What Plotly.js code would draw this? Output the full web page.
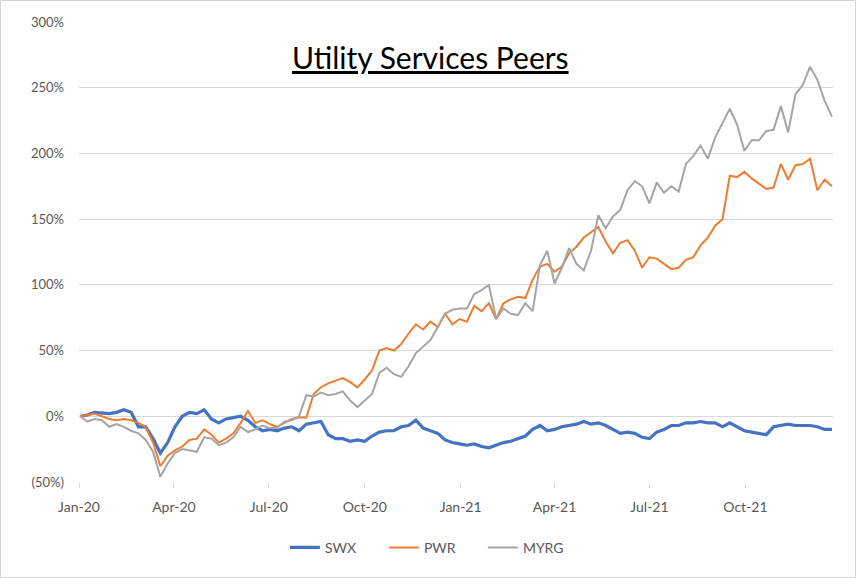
<!DOCTYPE html>
<html>
<head>
<meta charset="utf-8">
<script src="https://cdn.plot.ly/plotly-3.0.1.min.js"></script>
<style>
  body { margin: 0; background: #fff; }
  #plot { width: 854px; height: 576px; border: 1px solid #d4d4d4; }
</style>
</head>
<body>
<div id="plot"></div>
<script>
// weekly closes, % change since 2 Jan 2020
let swx = [0, 1, 3, 2.5, 2, 3, 5, 3, -8, -8, -17, -28, -20, -8, 0, 3, 2, 5, -2, -5,
  -2, -1, 0, -3, -8, -11, -10, -11, -9, -8, -11, -6, -5, -4, -14, -17, -17, -19, -18, -19,
  -15, -12, -11, -11, -8, -7, -3, -9, -11, -13, -18, -20, -21, -22, -21, -23, -24, -22, -20, -19,
  -17, -15, -10, -7, -11, -10, -8, -7, -6, -4, -6, -5, -7, -10, -13, -12, -13, -16, -17, -12,
  -10, -7, -7, -5, -5, -4, -5, -5, -8, -5, -8, -11, -12, -13, -14, -8, -7, -6, -7, -7,
  -7, -8, -10, -10];

let pwr = [0, 1, 2, 0, -2, -3, -2, -3, -5, -8, -20, -38, -30, -26, -23, -18, -17, -10, -14, -20,
  -17, -13, -5, 4, -5, -3, -6, -8, -5, -2, -1, -1, 17, 22, 25, 27, 29, 26, 22, 28,
  35, 50, 52, 50, 55, 63, 70, 66, 72, 68, 78, 70, 74, 72, 84, 80, 86, 74, 86, 89,
  91, 90, 104, 114, 116, 110, 114, 124, 129, 136, 140, 144, 133, 124, 132, 134, 126, 113, 121, 120,
  116, 112, 113, 119, 121, 130, 136, 145, 150, 183, 182, 186, 181, 177, 173, 174, 192, 180, 191, 192,
  196, 172, 180, 175];

let myrg = [0, -4, -2, -3, -8, -6, -8, -11, -13, -18, -27, -46, -36, -28, -25, -26, -27, -16, -17, -22,
  -20, -16, -8, -12, -10, -7, -9, -9, -4, -3, 0, 16, 15, 18, 16, 17, 19, 12, 7, 12,
  17, 33, 37, 32, 30, 38, 48, 53, 58, 68, 78, 81, 82, 82, 93, 96, 100, 74, 82, 78,
  77, 86, 80, 115, 126, 101, 113, 128, 116, 111, 126, 153, 143, 152, 157, 172, 179, 175, 162, 178,
  170, 175, 171, 192, 198, 206, 196, 212, 223, 234, 222, 202, 210, 210, 217, 218, 236, 216, 245, 252,
  266, 256, 240, 228];

let yTicks = [-50, 0, 50, 100, 150, 200, 250, 300];
let yLabels = ['(50%)', '0%', '50%', '100%', '150%', '200%', '250%', '300%'];
let xTicks = ['2020-01-01', '2020-04-01', '2020-07-01', '2020-10-01',
  '2021-01-01', '2021-04-01', '2021-07-01', '2021-10-01'];
let xLabels = ['Jan-20', 'Apr-20', 'Jul-20', 'Oct-20', 'Jan-21', 'Apr-21', 'Jul-21', 'Oct-21'];

// one date per week, starting 2 Jan 2020
let dates = [];
let start = Date.UTC(2020, 0, 2);
for (let i = 0; i < swx.length; i++) {
  dates.push(new Date(start + i * 7 * 86400000).toISOString().slice(0, 10));
}

let swxTrace = {
  x: dates, y: swx, name: 'SWX', type: 'scatter', mode: 'lines',
  line: {color: '#4472C4', width: 3.2}
};
let pwrTrace = {
  x: dates, y: pwr, name: 'PWR', type: 'scatter', mode: 'lines',
  line: {color: '#ED7D31', width: 2}
};
let myrgTrace = {
  x: dates, y: myrg, name: 'MYRG', type: 'scatter', mode: 'lines',
  line: {color: '#A5A5A5', width: 2}
};

let data = [swxTrace, pwrTrace, myrgTrace];

let layout = {
  width: 854,
  height: 576,
  paper_bgcolor: '#fff',
  plot_bgcolor: '#fff',
  font: {family: 'Lato, "Open Sans", sans-serif', size: 14, color: '#595959'},
  margin: {l: 78, r: 22, t: 21, b: 95, pad: 0},
  showlegend: true,
  legend: {
    orientation: 'h', x: 0.47, xanchor: 'center', y: -0.143, yanchor: 'middle',
    font: {size: 14, color: '#595959'}, traceorder: 'normal',
    entrywidth: 54, entrywidthmode: 'pixels'
  },
  hovermode: false,
  xaxis: {
    type: 'date',
    range: ['2020-01-01', '2021-12-24'],
    tickvals: xTicks,
    ticktext: xLabels,
    ticks: 'outside',
    ticklen: 5,
    tickcolor: '#d9d9d9',
    showgrid: false,
    showline: false,
    zeroline: false,
    ticklabelstandoff: 7
  },
  yaxis: {
    range: [-50, 300],
    tickvals: yTicks,
    ticktext: yLabels,
    showgrid: true,
    gridcolor: '#d9d9d9',
    gridwidth: 1,
    zeroline: false,
    showline: false,
    ticks: '',
    ticklabelstandoff: 14,
    tickfont: {size: 13}
  },
  annotations: [{
    text: '<u>Utility Services Peers</u>',
    xref: 'paper', yref: 'paper',
    x: 0.466, y: 0.924, xanchor: 'center', yanchor: 'middle',
    showarrow: false,
    font: {size: 30, color: '#000', family: 'Lato, "Open Sans", sans-serif'}
  }]
};

Plotly.newPlot('plot', data, layout, {displayModeBar: false, staticPlot: true});
</script>
</body>
</html>
